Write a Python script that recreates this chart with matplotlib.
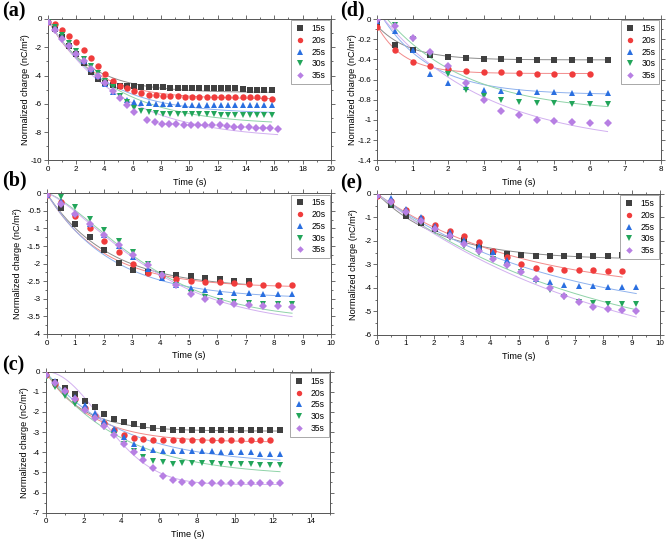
import numpy as np
import matplotlib
matplotlib.use("Agg")
import matplotlib.pyplot as plt
from matplotlib.ticker import MultipleLocator, FuncFormatter

plt.rcParams['font.family'] = ['Liberation Sans', 'DejaVu Sans']
plt.rcParams['axes.unicode_minus'] = False

# ------------------- data -------------------
labels = ['15s', '20s', '25s', '30s', '35s']
colors = ['#404040', '#f03c3c', '#2a6fe0', '#22a55a', '#b77fe3']
fit_colors = ['#8c8c8c', '#f28a8a', '#8fb2ee', '#8fd3a8', '#d2b0f0']
markers = ['s', 'o', '^', 'v', 'D']

# (a)
a_t = [0, 0.51, 1.02, 1.53, 2.04, 2.55, 3.06, 3.57, 4.08, 4.59, 5.1, 5.61, 6.12, 6.63, 7.14, 7.65,
       8.16, 8.67, 9.18, 9.69, 10.2, 10.71, 11.22, 11.73, 12.24, 12.75, 13.26, 13.77, 14.28, 14.79, 15.3, 15.81]
a_t35 = [0, 0.51, 1.02, 1.53, 2.04, 2.55, 3.06, 3.57, 4.08, 4.59, 5.1, 5.61, 6.12, 7.05, 7.56, 8.07,
         8.58, 9.09, 9.6, 10.11, 10.62, 11.13, 11.64, 12.15, 12.66, 13.17, 13.68, 14.19, 14.7, 15.21, 15.72, 16.23]
a_15 = [-0.2, -0.7, -1.3, -1.9, -2.45, -3.1, -3.75, -4.25, -4.55, -4.65, -4.7, -4.75, -4.75, -4.8, -4.8, -4.82,
        -4.82, -4.85, -4.85, -4.85, -4.85, -4.85, -4.85, -4.87, -4.87, -4.9, -4.9, -4.92, -5.0, -5.0, -5.05, -5.05]
a_20 = [-0.2, -0.35, -0.8, -1.2, -1.6, -2.2, -2.75, -3.35, -3.9, -4.4, -4.75, -4.9, -5.1, -5.25, -5.35, -5.4,
        -5.45, -5.45, -5.45, -5.5, -5.5, -5.5, -5.5, -5.5, -5.5, -5.5, -5.5, -5.5, -5.5, -5.5, -5.6, -5.65]
a_25 = [-0.2, -0.6, -1.2, -1.8, -2.4, -3.0, -3.5, -4.0, -4.6, -5.15, -5.45, -5.7, -5.85, -5.95, -5.95, -6.0,
        -6.0, -6.0, -6.0, -6.05, -6.05, -6.05, -6.05, -6.05, -6.05, -6.05, -6.05, -6.05, -6.05, -6.05, -6.1, -6.1]
a_30 = [-0.2, -0.6, -1.15, -1.7, -2.25, -2.8, -3.3, -3.85, -4.35, -4.8, -5.45, -5.85, -6.3, -6.5, -6.6, -6.65,
        -6.7, -6.7, -6.7, -6.7, -6.72, -6.72, -6.72, -6.72, -6.75, -6.75, -6.75, -6.78, -6.78, -6.78, -6.8, -6.8]
a_35 = [-0.2, -0.8, -1.4, -1.9, -2.45, -3.0, -3.55, -4.05, -4.5, -5.1, -5.55, -6.1, -6.6, -7.15, -7.3, -7.4,
        -7.45, -7.45, -7.5, -7.5, -7.5, -7.5, -7.5, -7.5, -7.55, -7.6, -7.65, -7.65, -7.7, -7.7, -7.7, -7.75]
a_fit_A = [5.2, 5.65, 6.7, 7.5, 8.5]
a_fit_tau = [2.86, 3.0, 3.8, 4.5, 5.0]
a_fit_n = [1, 1, 1, 1, 1]
a_fit_y0 = [0, 0, 0, 0, 0]

# (b)
b_t = [0, 0.5, 1.0, 1.52, 2.03, 2.53, 3.04, 3.55, 4.05, 4.56, 5.07, 5.58, 6.08, 6.59, 7.1, 7.61, 8.12, 8.63]
b_15 = [-0.02, -0.42, -0.87, -1.25, -1.62, -1.97, -2.17, -2.25, -2.3, -2.33, -2.35, -2.4, -2.45, -2.48, -2.5]
b_20 = [-0.05, -0.25, -0.64, -1.0, -1.36, -1.68, -2.0, -2.27, -2.36, -2.45, -2.48, -2.51, -2.53, -2.55,
        -2.58, -2.6, -2.6, -2.6]
b_25 = [-0.05, -0.22, -0.55, -0.88, -1.18, -1.49, -1.8, -2.14, -2.42, -2.6, -2.7, -2.75, -2.8, -2.83,
        -2.84, -2.85, -2.86, -2.87]
b_30 = [0.0, -0.1, -0.38, -0.73, -1.05, -1.36, -1.68, -2.01, -2.33, -2.62, -2.84, -2.96, -3.05, -3.09,
        -3.13, -3.14, -3.15, -3.15]
b_35 = [-0.05, -0.3, -0.59, -0.87, -1.18, -1.46, -1.75, -2.03, -2.32, -2.6, -2.86, -3.01, -3.09, -3.14,
        -3.18, -3.2, -3.21, -3.22]
b_fit_A = [2.7, 2.68, 3.0, 3.6, 3.75]
b_fit_tau = [2.2, 2.0, 2.3, 4.0, 4.1]
b_fit_n = [1, 1, 1, 1.4, 1.35]
b_fit_y0 = [0, 0, 0, 0, 0]

# (c)
c_t = [0, 0.515, 1.03, 1.545, 2.06, 2.575, 3.09, 3.605, 4.12, 4.635, 5.15, 5.665, 6.18, 6.695, 7.21, 7.725,
       8.24, 8.755, 9.27, 9.785, 10.3, 10.815, 11.33, 11.845, 12.36]
c_15 = [-0.1, -0.5, -0.8, -1.1, -1.45, -1.75, -2.1, -2.33, -2.48, -2.62, -2.7, -2.8, -2.82, -2.87, -2.87,
        -2.87, -2.87, -2.87, -2.87, -2.87, -2.87, -2.87, -2.87, -2.87, -2.87]
c_20 = [-0.15, -0.6, -0.95, -1.35, -1.8, -2.2, -2.55, -2.88, -3.16, -3.28, -3.33, -3.37, -3.4, -3.4, -3.4,
        -3.4, -3.4, -3.4, -3.4, -3.4, -3.4, -3.4, -3.4, -3.4]
c_25 = [-0.1, -0.45, -0.9, -1.25, -1.65, -2.05, -2.45, -2.83, -3.23, -3.61, -3.79, -3.89, -3.93, -3.95, -3.95,
        -3.95, -3.95, -3.95, -3.97, -3.97, -3.97, -4.0, -4.09, -4.09, -4.09]
c_30 = [-0.3, -0.78, -1.2, -1.6, -1.97, -2.35, -2.76, -3.13, -3.59, -3.95, -4.25, -4.45, -4.5, -4.59, -4.55,
        -4.55, -4.55, -4.55, -4.57, -4.6, -4.6, -4.6, -4.62, -4.65, -4.65]
c_35 = [-0.15, -0.55, -0.95, -1.35, -1.9, -2.3, -2.7, -3.15, -3.6, -4.0, -4.4, -4.8, -5.17, -5.38, -5.46,
        -5.51, -5.55, -5.55, -5.55, -5.55, -5.55, -5.55, -5.55, -5.55, -5.55]
c_fit_A = [2.95, 3.5, 4.6, 5.2, 5.6]
c_fit_tau = [1.9, 2.4, 4.0, 4.0, 4.0]
c_fit_n = [1, 1, 1, 1, 2.0]
c_fit_y0 = [0, 0, 0, 0, 0]

# (d)
d_t = [0, 0.5, 1.0, 1.5, 2.0, 2.5, 3.0, 3.5, 4.0, 4.5, 5.0, 5.5, 6.0, 6.5]
d_15 = [-0.05, -0.26, -0.31, -0.36, -0.38, -0.39, -0.40, -0.40, -0.405, -0.41, -0.41, -0.41, -0.41, -0.41]
d_20 = [-0.075, -0.31, -0.43, -0.47, -0.5, -0.52, -0.525, -0.53, -0.535, -0.54, -0.54, -0.545, -0.545]
d_25 = [-0.02, -0.12, -0.31, -0.545, -0.63, -0.67, -0.70, -0.71, -0.72, -0.725, -0.725, -0.73, -0.73, -0.735]
d_30 = [0.0, -0.06, -0.195, -0.36, -0.545, -0.705, -0.76, -0.80, -0.82, -0.83, -0.835, -0.84, -0.84, -0.84]
d_35 = [-0.01, -0.07, -0.185, -0.325, -0.465, -0.635, -0.80, -0.91, -0.955, -1.0, -1.015, -1.025, -1.03, -1.03]
d_fit_A = [0.335, 0.47, 0.85, 1.05, 1.35]
d_fit_tau = [0.9, 0.75, 1.4, 2.3, 3.0]
d_fit_n = [1, 1, 1, 1, 1]
d_fit_y0 = [-0.07, -0.07, 0.1, 0.12, 0.08]

# (e)
e_t = [0, 0.5, 1.03, 1.53, 2.05, 2.56, 3.07, 3.58, 4.08, 4.59, 5.09, 5.61, 6.12, 6.62, 7.13, 7.64, 8.15, 8.66, 9.16]
e_15 = [-0.1, -0.45, -0.93, -1.22, -1.5, -1.75, -1.97, -2.28, -2.49, -2.57, -2.62, -2.63, -2.64, -2.64, -2.64,
        -2.63, -2.63, -2.62, -2.6]
e_20 = [-0.1, -0.3, -0.68, -1.03, -1.32, -1.56, -1.79, -2.05, -2.43, -2.7, -3.0, -3.14, -3.2, -3.23, -3.26,
        -3.25, -3.27, -3.27]
e_25 = [-0.05, -0.15, -0.63, -1.0, -1.35, -1.62, -1.95, -2.2, -2.49, -2.82, -3.24, -3.61, -3.77, -3.86, -3.91,
        -3.93, -3.95, -3.95, -3.95]
e_30 = [-0.1, -0.45, -0.82, -1.25, -1.59, -1.89, -2.2, -2.5, -2.79, -3.07, -3.34, -3.71, -4.11, -4.4, -4.59,
        -4.65, -4.67, -4.67, -4.67]
e_35 = [-0.1, -0.35, -0.78, -1.15, -1.5, -1.8, -2.12, -2.45, -2.76, -3.03, -3.31, -3.64, -4.0, -4.34, -4.61,
        -4.81, -4.91, -4.96, -4.97]
e_fit_A = [2.8, 4.3, 5.5, 7.0, 7.8]
e_fit_tau = [2.3, 5.0, 6.2, 7.5, 8.2]
e_fit_n = [1, 1, 1, 1, 1]
e_fit_y0 = [0, 0, 0, 0, 0]

W, H = 667, 542


def fit_curve(t_end, A, tau, n, y0):
    tt = np.linspace(0, t_end, 300)
    return tt, y0 - A * (1 - np.exp(-(tt / tau) ** n))


def draw_panel(rect_px, times, series, fits, xlim, xmaj, ylim, ymaj, ylab_off, letter, letter_xy):
    l, t, r, b = rect_px
    ax = fig.add_axes([l / W, 1 - b / H, (r - l) / W, (b - t) / H])
    A, tau, n, y0 = fits
    for i in range(5):
        tt = times[i][:len(series[i])]
        fx, fy = fit_curve(tt[-1], A[i], tau[i], n[i], y0[i])
        ax.plot(fx, fy, color=fit_colors[i], lw=0.7, zorder=2)
    for i in range(5):
        tt = times[i][:len(series[i])]
        ms = {'D': 3.9, 'o': 4.6}.get(markers[i], 4.3)
        ax.plot(tt, series[i], linestyle='none', marker=markers[i], ms=ms, mew=0,
                color=colors[i], label=labels[i], zorder=3)
    ax.set_xlim(*xlim)
    ax.set_ylim(*ylim)
    ax.xaxis.set_major_locator(MultipleLocator(xmaj))
    ax.xaxis.set_minor_locator(MultipleLocator(xmaj / 2))
    ax.yaxis.set_major_locator(MultipleLocator(ymaj))
    ax.yaxis.set_minor_locator(MultipleLocator(ymaj / 2))
    fmt = FuncFormatter(lambda v, p: f'{v:g}' if abs(v) > 1e-9 else '0')
    ax.xaxis.set_major_formatter(fmt)
    ax.yaxis.set_major_formatter(fmt)
    ax.tick_params(which='both', direction='out', top=True, right=True, labelsize=5.8,
                   color='#555555', width=0.6, pad=1.5)
    ax.tick_params(which='major', length=2.6)
    ax.tick_params(which='minor', length=1.4)
    for s in ax.spines.values():
        s.set_color('#555555')
        s.set_linewidth(0.7)
    hpx = b - t
    wpx = r - l
    ax.set_xlabel('Time (s)', fontsize=6.6)
    ax.xaxis.set_label_coords(0.5, -17.5 / hpx)
    ax.set_ylabel('Normalized charge (nC/m²)', fontsize=6.6)
    ax.yaxis.set_label_coords(-(ylab_off - 4.5) / wpx, 0.5)
    leg = ax.legend(loc='upper right', fontsize=6.2, frameon=True, fancybox=False,
                    edgecolor='#9a9a9a', framealpha=1, borderaxespad=0.15, borderpad=0.45,
                    labelspacing=0.32, handlelength=1.1, handletextpad=0.8, markerscale=0.85)
    leg.get_frame().set_linewidth(0.6)
    fig.text(letter_xy[0] / W, 1 - letter_xy[1] / H, letter, family='Liberation Serif',
             fontweight='bold', fontsize=14.5, ha='left', va='center')
    return ax


fig = plt.figure(figsize=(W / 100, H / 100), dpi=100)

draw_panel((47.5, 19, 331, 160.5), [a_t, a_t, a_t, a_t, a_t35], [a_15, a_20, a_25, a_30, a_35],
           (a_fit_A, a_fit_tau, a_fit_n, a_fit_y0), (0, 20), 2, (-10, 0), 2, 22, '(a)', (2, 11.5))
draw_panel((46.7, 193.3, 331, 334), [b_t] * 5, [b_15, b_20, b_25, b_30, b_35],
           (b_fit_A, b_fit_tau, b_fit_n, b_fit_y0), (0, 10), 1, (-4, 0), 0.5, 29, '(b)', (2, 180))
draw_panel((45.7, 371.7, 330, 512.7), [c_t] * 5, [c_15, c_20, c_25, c_30, c_35],
           (c_fit_A, c_fit_tau, c_fit_n, c_fit_y0), (0, 15), 2, (-7, 0), 1, 21, '(c)', (2, 365))
draw_panel((377.3, 19, 660.7, 160.3), [d_t] * 5, [d_15, d_20, d_25, d_30, d_35],
           (d_fit_A, d_fit_tau, d_fit_n, d_fit_y0), (0, 8), 1, (-1.4, 0), 0.2, 25, '(d)', (340, 10))
draw_panel((377.3, 194, 660, 334.7), [e_t] * 5, [e_15, e_20, e_25, e_30, e_35],
           (e_fit_A, e_fit_tau, e_fit_n, e_fit_y0), (0, 10), 1, (-6, 0), 1, 24, '(e)', (340, 183))

fig.savefig('out.png', dpi=100)
